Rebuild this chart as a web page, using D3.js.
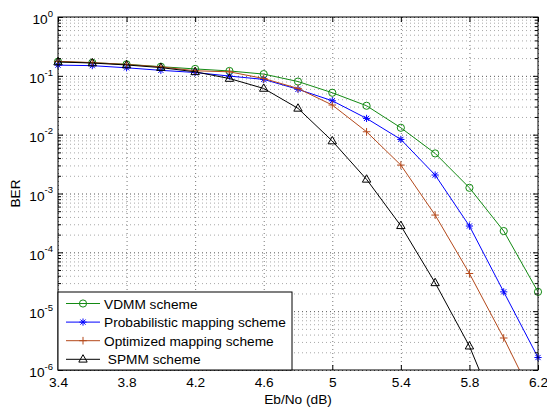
<!DOCTYPE html>
<html>
<head>
<meta charset="utf-8">
<script src="https://cdn.jsdelivr.net/npm/d3@7"></script>
<style>
  body { margin: 0; background: #fff; }
  text { font-family: "Liberation Sans", Arial, sans-serif; }
</style>
</head>
<body>
<div id="chart"></div>
<script>
// values (BER vs Eb/No)
const ebno = [3.4, 3.6, 3.8, 4.0, 4.2, 4.4, 4.6, 4.8, 5.0, 5.2, 5.4, 5.6, 5.8, 6.0, 6.2];
const vdmm = [0.174, 0.167, 0.157, 0.143, 0.131, 0.121, 0.107, 0.080, 0.0516, 0.031, 0.0131, 0.0048, 0.00125, 0.00023, 2.13e-5];
const prob = [0.152, 0.149, 0.137, 0.124, 0.114, 0.099, 0.087, 0.059, 0.0377, 0.0189, 0.0083, 0.00206, 0.00028, 2.13e-5, 1.63e-6];
const optm = [0.176, 0.168, 0.156, 0.142, 0.122, 0.117, 0.090, 0.061, 0.0319, 0.0112, 0.00304, 0.00043, 4.37e-5, 3.5e-6, 2.3e-7];
const spmm = [0.172, 0.165, 0.153, 0.138, 0.117, 0.090, 0.061, 0.028, 0.0078, 0.00174, 0.000283, 3.03e-5, 2.54e-6, 1.0e-7];

const seriesNames = ["VDMM scheme", "Probabilistic mapping scheme", "Optimized mapping scheme", " SPMM scheme"];
const seriesColors = ["#138a13", "#0000ff", "#b4491b", "#000000"];
const seriesMarkers = ["circle", "star", "plus", "triangle"];
const seriesValues = [vdmm, prob, optm, spmm];

const xTicks = [3.4, 3.8, 4.2, 4.6, 5, 5.4, 5.8, 6.2];
const yTicks = [1e-6, 1e-5, 1e-4, 1e-3, 1e-2, 1e-1, 1];

const width = 547, height = 407;
const pLeft = 58, pRight = 538, pTop = 17, pBottom = 370;

const x = d3.scaleLinear().domain([3.4, 6.2]).range([pLeft, pRight]);
const y = d3.scaleLog().domain([1e-6, 1]).range([pBottom, pTop]);

// minor log ticks 2..9 in each decade
let yMinor = [];
yTicks.slice(0, -1).forEach(function (d) {
  for (let k = 2; k <= 9; k++) yMinor.push(d * k);
});

let svg = d3.select("#chart").append("svg")
  .attr("width", width)
  .attr("height", height);

svg.append("rect").attr("width", width).attr("height", height).attr("fill", "#fff");

// grid
let grid = svg.append("g").attr("class", "grid");
grid.append("g")
  .attr("transform", "translate(0," + pBottom + ")")
  .call(d3.axisBottom(x).tickValues(xTicks).tickSize(-(pBottom - pTop)).tickFormat(""))
  .call(g => g.select(".domain").remove())
  .selectAll("line").attr("stroke", "#777");
grid.append("g")
  .attr("transform", "translate(" + pLeft + ",0)")
  .call(d3.axisLeft(y).tickValues(yMinor).tickSize(-(pRight - pLeft)).tickFormat(""))
  .call(g => g.select(".domain").remove())
  .selectAll("line").attr("stroke", "#a8a8a8");
grid.append("g")
  .attr("transform", "translate(" + pLeft + ",0)")
  .call(d3.axisLeft(y).tickValues(yTicks).tickSize(-(pRight - pLeft)).tickFormat(""))
  .call(g => g.select(".domain").remove())
  .selectAll("line").attr("stroke", "#555");
grid.selectAll("line").attr("stroke-dasharray", "1,3").attr("stroke-width", 1);

// clip for the lines
svg.append("clipPath").attr("id", "plotclip")
  .append("rect").attr("x", pLeft).attr("y", pTop)
  .attr("width", pRight - pLeft).attr("height", pBottom - pTop);

function drawMarker(sel, type, color) {
  if (type === "circle") {
    sel.append("circle").attr("r", 3.6).attr("fill", "none").attr("stroke", color);
  } else if (type === "star") {
    const r = 3.6, s = r * 0.72;
    sel.append("path")
      .attr("d", `M${-r},0L${r},0M0,${-r}L0,${r}M${-s},${-s}L${s},${s}M${-s},${s}L${s},${-s}`)
      .attr("stroke", color).attr("fill", "none");
  } else if (type === "plus") {
    const r = 3.8;
    sel.append("path")
      .attr("d", `M${-r},0L${r},0M0,${-r}L0,${r}`)
      .attr("stroke", color).attr("fill", "none");
  } else if (type === "triangle") {
    sel.append("path")
      .attr("d", "M0,-4.6L4.2,2.8L-4.2,2.8Z")
      .attr("stroke", color).attr("fill", "none");
  }
}

const line = d3.line()
  .x((d, i) => x(ebno[i]))
  .y(d => y(d));

let plot = svg.append("g");
seriesValues.forEach(function (vals, s) {
  plot.append("path")
    .datum(vals)
    .attr("clip-path", "url(#plotclip)")
    .attr("fill", "none")
    .attr("stroke", seriesColors[s])
    .attr("stroke-width", 1)
    .attr("d", line);

  plot.append("g")
    .selectAll("g")
    .data(vals.map((v, i) => ({ x: ebno[i], v: v })).filter(d => d.v >= 1e-6))
    .enter()
    .append("g")
    .attr("transform", d => "translate(" + x(d.x) + "," + y(d.v) + ")")
    .each(function () { drawMarker(d3.select(this), seriesMarkers[s], seriesColors[s]); });
});

// axes (ticks point inward, box on)
const fontSize = 13.7;
let xAxisG = svg.append("g")
  .attr("transform", "translate(0," + pBottom + ")")
  .call(d3.axisBottom(x).tickValues(xTicks).tickFormat(d3.format("")).tickSizeInner(-5).tickSizeOuter(0).tickPadding(7));
xAxisG.selectAll("text").attr("font-size", fontSize).attr("fill", "#000").style("font-family", "Liberation Sans, Arial, sans-serif");

svg.append("g")
  .attr("transform", "translate(0," + pTop + ")")
  .call(d3.axisTop(x).tickValues(xTicks).tickFormat("").tickSizeInner(-5).tickSizeOuter(0));

let yAxisG = svg.append("g")
  .attr("transform", "translate(" + pLeft + ",0)")
  .call(d3.axisLeft(y).tickValues(yTicks).tickSizeInner(-5).tickSizeOuter(0).tickPadding(5).tickFormat(""));
svg.append("g")
  .attr("transform", "translate(" + pLeft + ",0)")
  .call(d3.axisLeft(y).tickValues(yMinor).tickSizeInner(-3).tickSizeOuter(0).tickFormat(""));
svg.append("g")
  .attr("transform", "translate(" + pRight + ",0)")
  .call(d3.axisRight(y).tickValues(yTicks).tickSizeInner(-5).tickSizeOuter(0).tickFormat(""));
svg.append("g")
  .attr("transform", "translate(" + pRight + ",0)")
  .call(d3.axisRight(y).tickValues(yMinor).tickSizeInner(-3).tickSizeOuter(0).tickFormat(""));

yAxisG.selectAll(".tick text")
  .attr("dy", "0.49em")
  .attr("font-size", fontSize)
  .attr("fill", "#000")
  .style("font-family", "Liberation Sans, Arial, sans-serif")
  .each(function (d) {
    let t = d3.select(this);
    t.text(null);
    t.append("tspan").text("10");
    t.append("tspan").attr("font-size", 9.5).attr("dy", "-0.78em").text(Math.round(Math.log10(d)));
  });

svg.selectAll(".domain").remove();
svg.append("rect")
  .attr("x", pLeft).attr("y", pTop)
  .attr("width", pRight - pLeft).attr("height", pBottom - pTop)
  .attr("fill", "none").attr("stroke", "#000").attr("stroke-width", 1);

// axis titles
svg.append("text")
  .attr("x", (pLeft + pRight) / 2).attr("y", 404)
  .attr("text-anchor", "middle")
  .attr("font-size", fontSize)
  .text("Eb/No (dB)");
svg.append("text")
  .attr("transform", "translate(20," + ((pTop + pBottom) / 2) + ") rotate(-90)")
  .attr("text-anchor", "middle")
  .attr("font-size", fontSize)
  .text("BER");

// legend
let legend = svg.append("g").attr("id", "legend");
legend.append("rect")
  .attr("x", pLeft).attr("y", 292)
  .attr("width", 234).attr("height", pBottom - 292)
  .attr("fill", "#fff").attr("stroke", "#000");
seriesNames.forEach(function (name, s) {
  const ly = 303.5 + s * 18.6;
  legend.append("line")
    .attr("x1", 66).attr("x2", 100).attr("y1", ly).attr("y2", ly)
    .attr("stroke", seriesColors[s]);
  drawMarker(legend.append("g").attr("transform", "translate(83," + ly + ")"), seriesMarkers[s], seriesColors[s]);
  legend.append("text")
    .attr("x", 104).attr("y", ly + 5)
    .attr("font-size", fontSize)
    .style("white-space", "pre")
    .text(name);
});
</script>
</body>
</html>
